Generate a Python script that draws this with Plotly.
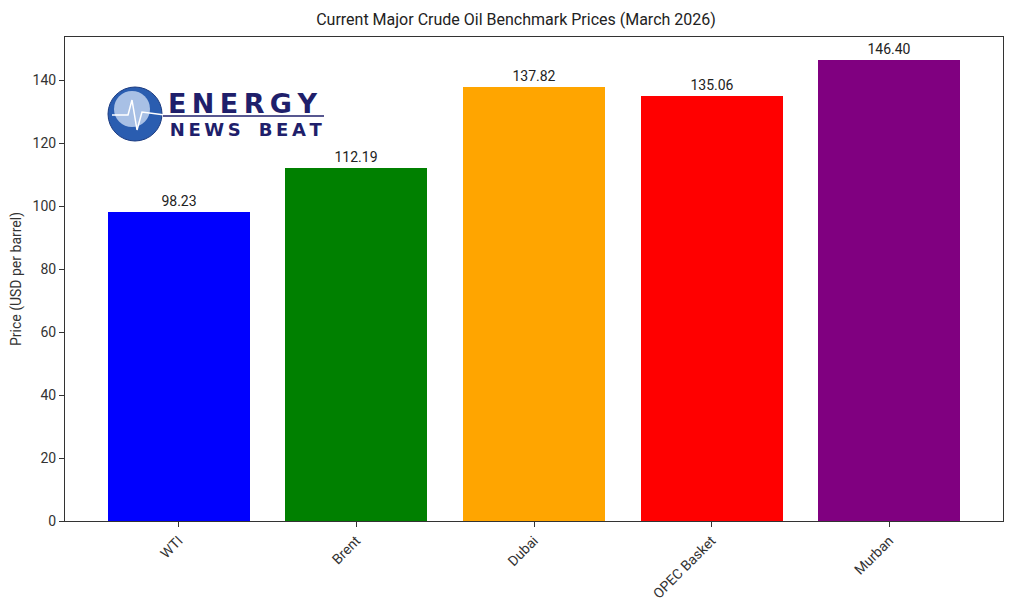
import plotly.graph_objects as go

benchmarks = ["WTI", "Brent", "Dubai", "OPEC Basket", "Murban"]
prices = [98.23, 112.19, 137.82, 135.06, 146.40]
bar_colors = ["blue", "green", "orange", "red", "purple"]
y_ticks = [0, 20, 40, 60, 80, 100, 120, 140]

# page body has an 8px margin; compensate
OFF = 8
W, H = 1024 - OFF, 613 - OFF
L, R, T, B = 65 - OFF, 21, 37 - OFF, 92
pw, ph = W - L - R, H - T - B

def px(x):
    return (x - OFF - L) / pw

def py(y):
    return (H - B - (y - OFF)) / ph

FONT = "Roboto, sans-serif"

fig = go.Figure()
fig.add_trace(go.Bar(
    x=list(range(len(benchmarks))), y=prices, width=0.8,
    marker=dict(color=bar_colors, line=dict(width=0)),
    text=[f"{v:.2f}" for v in prices], textposition="outside",
    textfont=dict(size=14, color="#222"), cliponaxis=False,
))

fig.update_layout(
    width=W, height=H, margin=dict(l=L, r=R, t=T, b=B, autoexpand=False),
    paper_bgcolor="white", plot_bgcolor="white",
    font=dict(family=FONT, color="#333", size=14),
    showlegend=False, bargap=0,
    title=dict(text="Current Major Crude Oil Benchmark Prices (March 2026)",
               x=0.5, xanchor="center", y=1 - (19 - OFF) / H, yanchor="middle",
               font=dict(size=16, color="#222", family=FONT)),
    xaxis=dict(range=[-0.64, 4.64], tickmode="array",
               tickvals=list(range(len(benchmarks))), ticktext=benchmarks,
               tickangle=-45, ticks="outside", ticklen=5, tickcolor="#333",
               showline=True, linecolor="#333", linewidth=1, mirror=True,
               showgrid=False, zeroline=False, tickfont=dict(size=14, color="#333")),
    yaxis=dict(range=[0, 153.72], tickvals=y_ticks, ticks="outside", ticklen=5,
               tickcolor="#333", showline=True, linecolor="#333", linewidth=1,
               mirror=True, showgrid=False, zeroline=False,
               title=dict(text="Price (USD per barrel)", standoff=10,
                          font=dict(size=14, color="#333")),
               tickfont=dict(size=14, color="#333")),
)

# Logo: globe + text
cx, cy, r = 135, 114, 27
fig.add_shape(type="circle", xref="paper", yref="paper",
              x0=px(cx - r), x1=px(cx + r), y0=py(cy + r), y1=py(cy - r),
              fillcolor="#2a5db0", line=dict(color="#1a3a80", width=1))
fig.add_shape(type="circle", xref="paper", yref="paper",
              x0=px(cx - r + 6), x1=px(cx + r - 12), y0=py(cy + r - 14), y1=py(cy - r + 4),
              fillcolor="#c8daf2", line=dict(width=0), opacity=0.8)
fig.add_shape(type="path", xref="paper", yref="paper",
              path=f"M {px(112)},{py(115)} L {px(128)},{py(115)} L {px(132)},{py(100)} "
                   f"L {px(137)},{py(130)} L {px(142)},{py(112)} L {px(165)},{py(115)}",
              line=dict(color="white", width=1.5))
fig.add_shape(type="line", xref="paper", yref="paper",
              x0=px(163), x1=px(324), y0=py(116), y1=py(116),
              line=dict(color="#1f1f6b", width=1.5))
fig.add_annotation(xref="paper", yref="paper", x=px(166), y=py(114),
                   xanchor="left", yanchor="middle", showarrow=False, align="left",
                   text="<span style='font-size:27px'><b>E\u2009N\u2009E\u2009R\u2009G\u2009Y</b></span><br>"
                        "\u200a<b>N\u2009E\u2009W\u2009S\u2002\u2002B\u2009E\u2009A\u2009T</b>",
                   font=dict(family="DejaVu Sans, sans-serif", size=18, color="#1f1f6b"))

fig.write_html("out.html")
